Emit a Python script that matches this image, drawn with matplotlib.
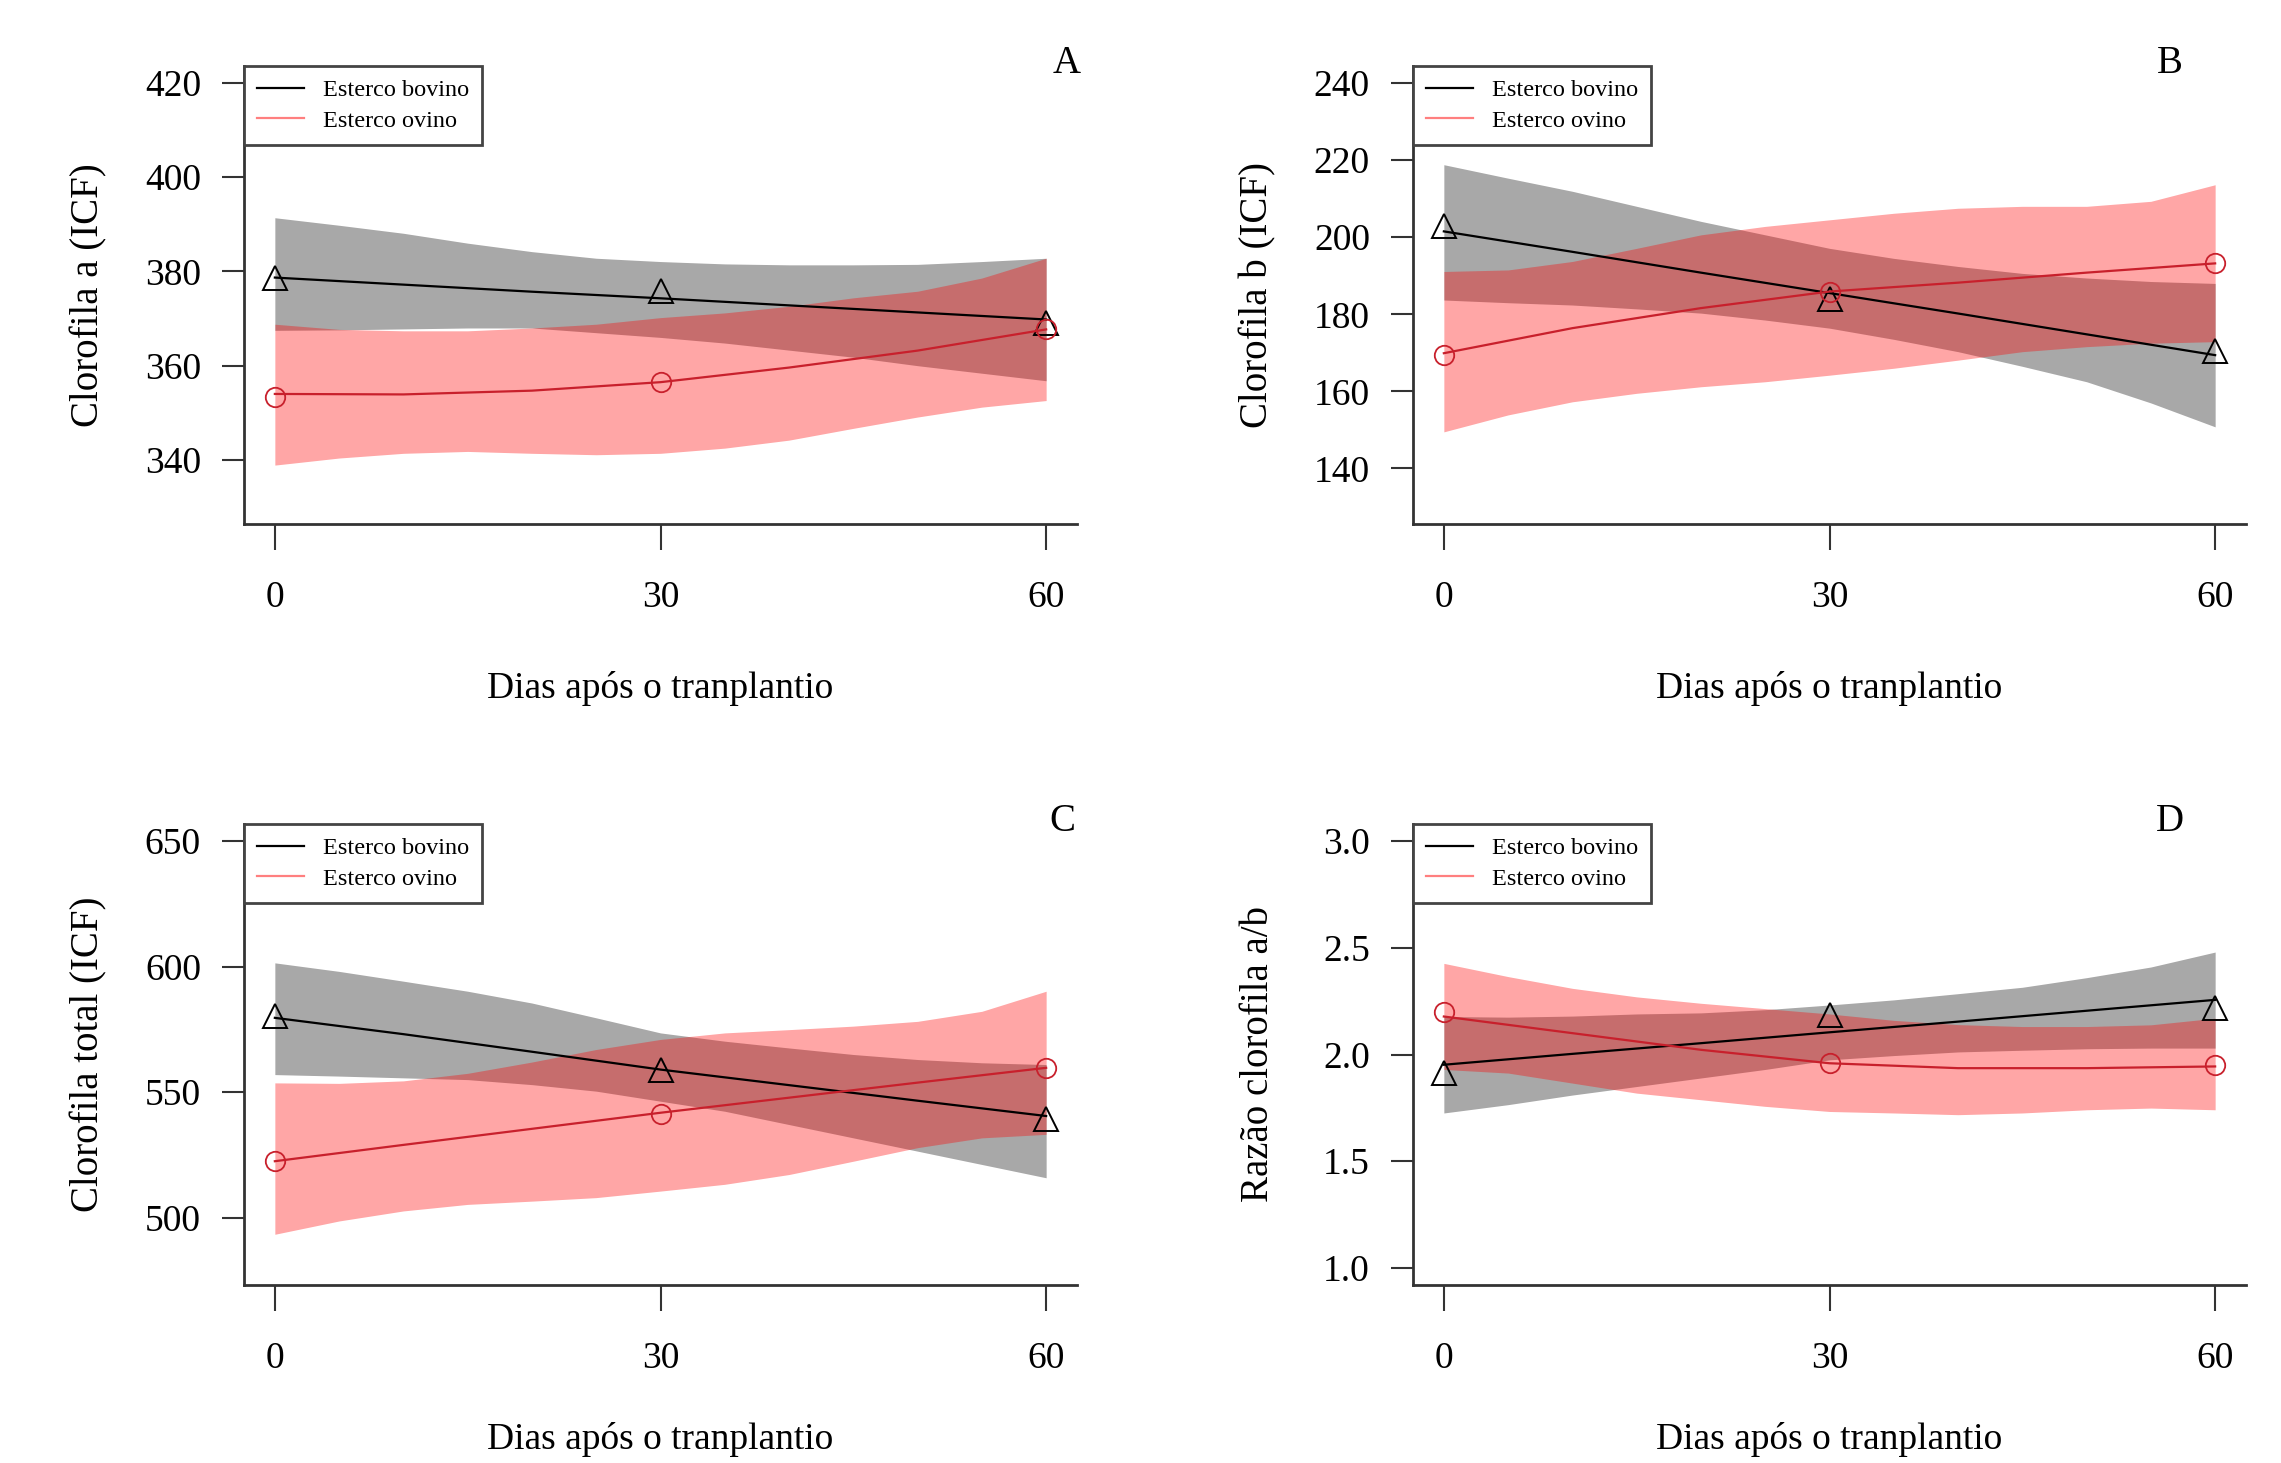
import numpy as np
import matplotlib
matplotlib.use("Agg")
import matplotlib.pyplot as plt
from matplotlib.lines import Line2D

plt.rcParams['font.family'] = ['Liberation Serif', 'DejaVu Serif']

# days after transplanting
days_obs = [0, 30, 60]
days_fit = [0, 10, 20, 30, 40, 50, 60]
days_band = [0, 5, 10, 15, 20, 25, 30, 35, 40, 45, 50, 55, 60]

# A - Clorofila a
A_bov_obs = [378.7, 375.8, 369.1]
A_ovi_obs = [353.3, 356.5, 367.8]
A_bov_fit = [378.7, 377.2, 375.7, 374.3, 372.8, 371.3, 369.8]
A_ovi_fit = [354.0, 353.9, 354.7, 356.5, 359.6, 363.2, 367.7]
A_bov_hi = [391.4, 389.8, 388.1, 386.0, 384.2, 382.8, 382.1, 381.6, 381.4, 381.4, 381.5, 382.1, 382.8]
A_bov_lo = [367.5, 367.6, 367.8, 368.0, 368.0, 367.0, 366.0, 364.8, 363.3, 361.8, 360.0, 358.4, 356.8]
A_ovi_hi = [368.8, 367.7, 367.4, 367.4, 368.0, 368.8, 370.2, 371.2, 372.6, 374.4, 375.8, 378.6, 382.8]
A_ovi_lo = [338.9, 340.4, 341.4, 341.8, 341.4, 341.1, 341.4, 342.5, 344.2, 346.7, 349.1, 351.2, 352.6]

# B - Clorofila b
B_bov_obs = [202.8, 184.0, 170.5]
B_ovi_obs = [169.4, 185.9, 193.2]
B_bov_fit = [201.5, 196.2, 190.8, 185.5, 180.2, 174.8, 169.4]
B_ovi_fit = [169.9, 176.4, 181.6, 185.9, 188.2, 190.8, 193.2]
B_bov_hi = [218.8, 215.3, 211.9, 208.0, 204.1, 200.6, 197.1, 194.5, 192.4, 190.6, 189.4, 188.5, 188.0]
B_bov_lo = [183.7, 183.0, 182.4, 181.4, 180.3, 178.5, 176.4, 173.5, 170.3, 166.5, 162.5, 157.0, 150.8]
B_ovi_hi = [191.1, 191.5, 193.7, 197.1, 200.6, 202.8, 204.5, 206.2, 207.5, 208.0, 208.0, 209.3, 213.6]
B_ovi_lo = [149.5, 153.9, 157.3, 159.5, 161.2, 162.5, 164.2, 166.0, 168.1, 170.3, 171.6, 172.5, 172.9]

# C - Clorofila total
C_bov_obs = [580.5, 559.0, 539.4]
C_ovi_obs = [522.5, 541.4, 559.7]
C_bov_fit = [579.6, 573.1, 566.1, 559.0, 552.8, 546.6, 540.5]
C_ovi_fit = [522.5, 529.0, 535.4, 541.8, 547.8, 553.8, 559.7]
C_bov_hi = [601.5, 598.1, 594.2, 590.2, 585.5, 579.6, 573.6, 570.3, 567.6, 565.0, 563.0, 561.7, 561.0]
C_bov_lo = [557.0, 556.4, 555.7, 555.0, 553.0, 550.4, 546.4, 542.4, 537.1, 531.8, 526.5, 521.2, 515.9]
C_ovi_hi = [553.7, 553.5, 554.5, 557.5, 562.0, 567.0, 571.0, 573.6, 574.9, 576.3, 578.2, 582.2, 590.2]
C_ovi_lo = [493.4, 498.7, 502.7, 505.3, 506.6, 508.0, 510.6, 513.3, 517.2, 522.5, 527.9, 531.8, 533.2]

# D - Razao a/b
D_bov_obs = [1.913, 2.186, 2.217]
D_ovi_obs = [2.201, 1.959, 1.952]
D_bov_fit = [1.952, 2.003, 2.053, 2.104, 2.154, 2.205, 2.256]
D_ovi_fit = [2.178, 2.100, 2.022, 1.959, 1.936, 1.936, 1.944]
D_bov_hi = [2.178, 2.175, 2.180, 2.190, 2.195, 2.210, 2.232, 2.256, 2.285, 2.315, 2.360, 2.410, 2.480]
D_bov_lo = [1.726, 1.765, 1.810, 1.850, 1.890, 1.930, 1.975, 1.995, 2.012, 2.020, 2.027, 2.030, 2.030]
D_ovi_hi = [2.427, 2.365, 2.310, 2.270, 2.240, 2.215, 2.190, 2.160, 2.140, 2.131, 2.131, 2.139, 2.170]
D_ovi_lo = [1.930, 1.913, 1.866, 1.819, 1.788, 1.757, 1.733, 1.726, 1.718, 1.726, 1.741, 1.749, 1.741]

panels = [
    dict(letter='A', ylabel='Clorofila a (ICF)', yticks=[340, 360, 380, 400, 420],
         ylim=(326.4, 423.6), box=(244, 66, 1077, 524), letter_x=0.987, xlab_y=-0.36,
         bov_obs=A_bov_obs, ovi_obs=A_ovi_obs, bov_fit=A_bov_fit, ovi_fit=A_ovi_fit,
         bov_hi=A_bov_hi, bov_lo=A_bov_lo, ovi_hi=A_ovi_hi, ovi_lo=A_ovi_lo),
    dict(letter='B', ylabel='Clorofila b (ICF)', yticks=[140, 160, 180, 200, 220, 240],
         ylim=(125.6, 244.4), box=(1413, 66, 2246, 524), letter_x=0.909, xlab_y=-0.36,
         bov_obs=B_bov_obs, ovi_obs=B_ovi_obs, bov_fit=B_bov_fit, ovi_fit=B_ovi_fit,
         bov_hi=B_bov_hi, bov_lo=B_bov_lo, ovi_hi=B_ovi_hi, ovi_lo=B_ovi_lo),
    dict(letter='C', ylabel='Clorofila total (ICF)', yticks=[500, 550, 600, 650],
         ylim=(473.2, 656.8), box=(244, 824, 1077, 1285), letter_x=0.983, xlab_y=-0.335,
         bov_obs=C_bov_obs, ovi_obs=C_ovi_obs, bov_fit=C_bov_fit, ovi_fit=C_ovi_fit,
         bov_hi=C_bov_hi, bov_lo=C_bov_lo, ovi_hi=C_ovi_hi, ovi_lo=C_ovi_lo),
    dict(letter='D', ylabel='Razão clorofila a/b', yticks=[1.0, 1.5, 2.0, 2.5, 3.0],
         ylim=(0.92, 3.08), box=(1413, 824, 2246, 1285), letter_x=0.909, xlab_y=-0.335,
         bov_obs=D_bov_obs, ovi_obs=D_ovi_obs, bov_fit=D_bov_fit, ovi_fit=D_ovi_fit,
         bov_hi=D_bov_hi, bov_lo=D_bov_lo, ovi_hi=D_ovi_hi, ovi_lo=D_ovi_lo),
]

W, H = 2281, 1463
fig = plt.figure(figsize=(W / 100, H / 100), dpi=100)
fig.patch.set_facecolor('white')

red = '#C8202C'
axis_col = '#333333'

for p in panels:
    l, t, r, b = p['box']
    ax = fig.add_axes([l / W, 1 - b / H, (r - l) / W, (b - t) / H])

    ax.fill_between(days_band, p['bov_lo'], p['bov_hi'], color='black', alpha=0.34, lw=0)
    ax.fill_between(days_band, p['ovi_lo'], p['ovi_hi'], color='red', alpha=0.35, lw=0)

    ax.plot(days_fit, p['bov_fit'], color='black', lw=1.6)
    ax.plot(days_obs, p['bov_obs'], ls='none', marker='^', ms=17, mfc='none',
            mec='black', mew=1.4)
    ax.plot(days_fit, p['ovi_fit'], color=red, lw=1.6)
    ax.plot(days_obs, p['ovi_obs'], ls='none', marker='o', ms=14, mfc='none',
            mec=red, mew=1.3)

    ax.set_xlim(-2.4, 62.4)
    ax.set_ylim(*p['ylim'])
    ax.set_xticks(days_obs)
    ax.set_yticks(p['yticks'])
    if p['letter'] == 'D':
        ax.set_yticklabels([f'{v:.1f}' for v in p['yticks']])

    for s in ['top', 'right']:
        ax.spines[s].set_visible(False)
    for s in ['left', 'bottom']:
        ax.spines[s].set_color(axis_col)
        ax.spines[s].set_linewidth(2.0)

    ax.tick_params(axis='y', direction='out', length=16, width=1.5, pad=15,
                   labelsize=27, color=axis_col)
    ax.tick_params(axis='x', direction='out', length=19, width=1.5, pad=22,
                   labelsize=27, color=axis_col)

    ax.set_xlabel('Dias após o tranplantio', fontsize=27)
    ax.xaxis.label.set_va('center')
    ax.xaxis.set_label_coords(0.5, p['xlab_y'])
    ax.set_ylabel(p['ylabel'], fontsize=28)
    ax.yaxis.label.set_va('center')
    ax.yaxis.set_label_coords(-155 / (r - l), 0.5)

    ax.text(p['letter_x'], 1.005, p['letter'], transform=ax.transAxes,
            ha='center', va='center', fontsize=28)

    handles = [Line2D([], [], color='black', lw=1.6),
               Line2D([], [], color='red', alpha=0.5, lw=1.6)]
    leg = ax.legend(handles, ['Esterco bovino', 'Esterco ovino'], loc='upper left',
                    bbox_to_anchor=(0, 1), borderaxespad=0, fontsize=17.5,
                    handlelength=1.9, handletextpad=0.8, borderpad=0.55,
                    labelspacing=0.35, fancybox=False, framealpha=1)
    leg.get_frame().set_edgecolor('#444444')
    leg.get_frame().set_linewidth(2.0)

fig.savefig('out.png', dpi=100, facecolor='white')
